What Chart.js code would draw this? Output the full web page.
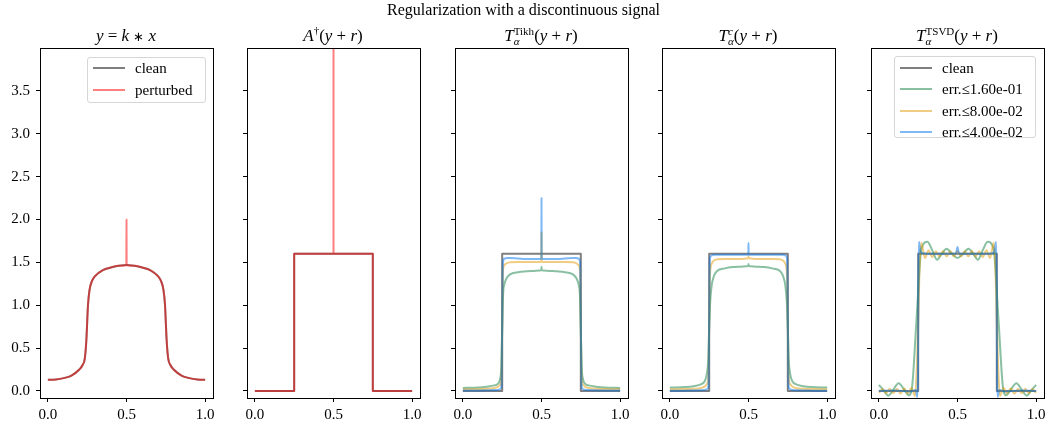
<!DOCTYPE html>
<html>
<head>
<meta charset="utf-8">
<script src="https://cdn.jsdelivr.net/npm/chart.js@4.4.1/dist/chart.umd.min.js"></script>
<style>
  body { margin: 0; background: #fff; }
  #fig { position: relative; width: 1047px; height: 426px; background: #fff; font-family: "Liberation Serif", serif; color: #000; }
  #fig canvas { position: absolute; top: 0; }
  .ttl { position: absolute; width: 220px; text-align: center; font-size: 17px; line-height: 20px; white-space: nowrap; }
  .sup { position: absolute; left: 0; width: 1047px; top: 2px; text-align: center; font-size: 16px; line-height: 16px; }
  .ss { display: inline-flex; flex-direction: column; font-size: 11px; line-height: 10px; vertical-align: 6px; text-align: left; }
  .dag { position: relative; top: -7px; font-size: 11px; }
  .leg { position: absolute; box-sizing: border-box; border: 1px solid #d6d6d6; border-radius: 3px; background: #fff; }
  .lline { position: absolute; width: 32px; height: 2px; }
  .ltxt { position: absolute; font-size: 15px; line-height: 20px; white-space: nowrap; }
</style>
</head>
<body>
<div id="fig">
  <canvas id="c1" width="225" height="426" style="left:0px"></canvas>
  <canvas id="c2" width="225" height="426" style="left:207px"></canvas>
  <canvas id="c3" width="225" height="426" style="left:415px"></canvas>
  <canvas id="c4" width="225" height="426" style="left:622px"></canvas>
  <canvas id="c5" width="225" height="426" style="left:831px"></canvas>

  <div class="sup">Regularization with a discontinuous signal</div>
  <div class="ttl" style="left:16px;top:26px"><i>y</i> = <i>k</i> <span style="font-size:13px">∗</span> <i>x</i></div>
  <div class="ttl" style="left:223px;top:26px"><i>A</i><span class="dag">†</span>(<i>y</i> + <i>r</i>)</div>
  <div class="ttl" style="left:431px;top:26px"><i>T</i><span class="ss"><span>Tikh</span><span><i>α</i></span></span>(<i>y</i> + <i>r</i>)</div>
  <div class="ttl" style="left:638px;top:26px"><i>T</i><span class="ss"><span><i>c</i></span><span><i>α</i></span></span>(<i>y</i> + <i>r</i>)</div>
  <div class="ttl" style="left:847px;top:26px"><i>T</i><span class="ss"><span>TSVD</span><span><i>α</i></span></span>(<i>y</i> + <i>r</i>)</div>

  <div id="leg1"></div>
  <div id="leg5"></div>
</div>
<script>
// ticks
const xTicks = [0, 0.5, 1];
const yTicks = [0, 0.5, 1, 1.5, 2, 2.5, 3, 3.5];

// panel 1: blurred signal y = k*x, clean and perturbed
const blurX = [0, 0.05, 0.1, 0.15, 0.2, 0.22, 0.235, 0.245, 0.25, 0.255, 0.265, 0.28, 0.3, 0.35, 0.4, 0.45, 0.5,
  0.55, 0.6, 0.65, 0.7, 0.72, 0.735, 0.745, 0.75, 0.755, 0.765, 0.78, 0.8, 0.85, 0.9, 0.95, 1];
const blurClean = [0.13, 0.135, 0.15, 0.18, 0.25, 0.3, 0.38, 0.6, 0.8, 1.0, 1.18, 1.28, 1.34, 1.41, 1.44, 1.46, 1.47,
  1.46, 1.44, 1.41, 1.34, 1.28, 1.18, 1.0, 0.8, 0.6, 0.38, 0.3, 0.25, 0.18, 0.15, 0.135, 0.13];
const pertX = [0, 0.05, 0.1, 0.15, 0.2, 0.22, 0.235, 0.245, 0.25, 0.255, 0.265, 0.28, 0.3, 0.35, 0.4, 0.45, 0.499, 0.5, 0.501,
  0.55, 0.6, 0.65, 0.7, 0.72, 0.735, 0.745, 0.75, 0.755, 0.765, 0.78, 0.8, 0.85, 0.9, 0.95, 1];
const pertY = [0.13, 0.135, 0.15, 0.18, 0.25, 0.3, 0.38, 0.6, 0.8, 1.0, 1.18, 1.28, 1.34, 1.41, 1.44, 1.46, 1.47, 2.0, 1.47,
  1.46, 1.44, 1.41, 1.34, 1.28, 1.18, 1.0, 0.8, 0.6, 0.38, 0.3, 0.25, 0.18, 0.15, 0.135, 0.13];

// clean step signal and pseudo-inverse of perturbed data
const stepX = [0, 0.25, 0.25, 0.75, 0.75, 1];
const stepY = [0, 0, 1.6, 1.6, 0, 0];
const pinvX = [0, 0.25, 0.25, 0.5, 0.5, 0.5, 0.75, 0.75, 1];
const pinvY = [0, 0, 1.6, 1.6, 6, 1.6, 1.6, 0, 0];

// panels 3 and 4 share this x grid
const fineX = [0, 0.1, 0.15, 0.2, 0.22, 0.235, 0.245, 0.25, 0.255, 0.265, 0.28, 0.3, 0.35, 0.4, 0.45, 0.49, 0.499, 0.5,
  0.501, 0.51, 0.55, 0.6, 0.65, 0.7, 0.72, 0.735, 0.745, 0.75, 0.755, 0.765, 0.78, 0.8, 0.85, 0.9, 1];

// Tikhonov
const tikhGreen = [0.035, 0.04, 0.05, 0.065, 0.08, 0.13, 0.3, 0.72, 1.1, 1.25, 1.32, 1.36, 1.385, 1.395, 1.4, 1.405, 1.41, 1.45,
  1.41, 1.405, 1.4, 1.395, 1.385, 1.36, 1.32, 1.25, 1.1, 0.72, 0.3, 0.13, 0.08, 0.065, 0.05, 0.04, 0.035];
const tikhOrange = [0.02, 0.022, 0.025, 0.035, 0.045, 0.07, 0.15, 0.78, 1.4, 1.47, 1.49, 1.5, 1.505, 1.505, 1.505, 1.505, 1.51, 1.85,
  1.51, 1.505, 1.505, 1.505, 1.505, 1.5, 1.49, 1.47, 1.4, 0.78, 0.15, 0.07, 0.045, 0.035, 0.025, 0.022, 0.02];
const tikhBlue = [0.005, 0.006, 0.007, 0.01, 0.012, 0.02, 0.05, 0.8, 1.5, 1.545, 1.55, 1.55, 1.545, 1.54, 1.54, 1.54, 1.545, 2.25,
  1.545, 1.54, 1.54, 1.54, 1.545, 1.55, 1.55, 1.545, 1.5, 0.8, 0.05, 0.02, 0.012, 0.01, 0.007, 0.006, 0.005];

// T^c
const cGreen = [0.04, 0.045, 0.055, 0.08, 0.11, 0.2, 0.4, 0.75, 1.0, 1.22, 1.34, 1.4, 1.43, 1.445, 1.45, 1.455, 1.46, 1.48,
  1.46, 1.455, 1.45, 1.445, 1.43, 1.4, 1.34, 1.22, 1.0, 0.75, 0.4, 0.2, 0.11, 0.08, 0.055, 0.045, 0.04];
const cOrange = [0.02, 0.022, 0.025, 0.035, 0.05, 0.08, 0.18, 0.8, 1.35, 1.48, 1.52, 1.535, 1.54, 1.54, 1.54, 1.545, 1.55, 1.57,
  1.55, 1.545, 1.54, 1.54, 1.54, 1.535, 1.52, 1.48, 1.35, 0.8, 0.18, 0.08, 0.05, 0.035, 0.025, 0.022, 0.02];
const cBlue = [0.003, 0.004, 0.005, 0.008, 0.01, 0.02, 0.05, 0.8, 1.55, 1.58, 1.59, 1.59, 1.59, 1.59, 1.59, 1.59, 1.59, 1.73,
  1.59, 1.59, 1.59, 1.59, 1.59, 1.59, 1.59, 1.58, 1.55, 0.8, 0.05, 0.02, 0.01, 0.008, 0.005, 0.004, 0.003];

// TSVD
const tsvdGreenX = [0, 0.03, 0.06, 0.09, 0.125, 0.16, 0.19, 0.21, 0.24, 0.27, 0.308, 0.34, 0.37, 0.4, 0.43, 0.465, 0.5,
  0.535, 0.57, 0.6, 0.63, 0.66, 0.692, 0.73, 0.76, 0.79, 0.81, 0.84, 0.875, 0.91, 0.94, 0.97, 1];
const tsvdGreenY = [0.07, 0.01, -0.055, 0.01, 0.09, 0.02, -0.05, 0.03, 0.85, 1.65, 1.74, 1.64, 1.53, 1.6, 1.66, 1.6, 1.55,
  1.6, 1.66, 1.6, 1.53, 1.64, 1.74, 1.65, 0.85, 0.03, -0.05, 0.02, 0.09, 0.01, -0.055, 0.01, 0.07];
const tsvdOrangeX = [0, 0.023, 0.046, 0.069, 0.092, 0.115, 0.138, 0.161, 0.184, 0.207, 0.23,
  0.242, 0.25, 0.258, 0.27, 0.293, 0.316, 0.339, 0.362, 0.385, 0.408, 0.431, 0.454, 0.477, 0.5,
  0.523, 0.546, 0.569, 0.592, 0.615, 0.638, 0.661, 0.684, 0.707, 0.73, 0.742, 0.75, 0.758, 0.77,
  0.793, 0.816, 0.839, 0.862, 0.885, 0.908, 0.931, 0.954, 0.977, 1];
const tsvdOrangeY = [-0.02, 0.02, -0.025, 0.025, -0.025, 0.025, -0.03, 0.03, -0.03, 0.035, -0.06,
  0.3, 0.8, 1.4, 1.73, 1.55, 1.64, 1.56, 1.63, 1.57, 1.63, 1.57, 1.63, 1.57, 1.63,
  1.57, 1.63, 1.57, 1.63, 1.57, 1.63, 1.56, 1.64, 1.55, 1.73, 1.4, 0.8, 0.3, -0.06,
  0.035, -0.03, 0.03, -0.03, 0.025, -0.025, 0.025, -0.025, 0.02, -0.02];
const tsvdBlueX = [0, 0.1, 0.2, 0.235, 0.245, 0.248, 0.25, 0.252, 0.255, 0.265, 0.3, 0.4, 0.49, 0.5, 0.51, 0.6, 0.7,
  0.735, 0.745, 0.748, 0.75, 0.752, 0.755, 0.765, 0.8, 0.9, 1];
const tsvdBlueY = [0, 0.005, -0.005, 0.01, -0.07, 0.2, 0.8, 1.4, 1.74, 1.62, 1.6, 1.6, 1.6, 1.68, 1.6, 1.6, 1.6,
  1.62, 1.74, 1.4, 0.8, 0.2, -0.07, 0.01, -0.005, 0.005, 0];

const legend1 = ['clean', 'perturbed'];
const legend5 = ['clean', 'err.≤1.60e-01', 'err.≤8.00e-02', 'err.≤4.00e-02'];

const cleanColor = 'rgba(0, 0, 0, 0.5)';
const pertColor = 'rgba(255, 0, 0, 0.5)';
const greenColor = 'rgba(20, 130, 70, 0.5)';
const orangeColor = 'rgba(225, 155, 5, 0.5)';
const blueColor = 'rgba(0, 115, 235, 0.5)';

const tickFont = { family: 'Liberation Serif', size: 15 };

function pts(xs, ys) {
  return xs.map((x, i) => ({ x: x, y: ys[i] }));
}

// later series on top, like matplotlib
function series(list) {
  return list.map((s, i) => ({
    data: pts(s[0], s[1]),
    borderColor: s[2],
    borderWidth: 2,
    pointRadius: 0,
    fill: false,
    borderJoinStyle: 'round',
    cubicInterpolationMode: s[3] ? 'monotone' : 'default',
    tension: 0,
    order: list.length - i
  }));
}

const boxPlugin = {
  id: 'box',
  afterDraw(chart) {
    const a = chart.chartArea, ctx = chart.ctx;
    ctx.save();
    ctx.strokeStyle = '#000';
    ctx.lineWidth = 1;
    ctx.strokeRect(a.left + 0.5, a.top + 0.5, a.right - a.left, a.bottom - a.top);
    ctx.restore();
  }
};

function panel(id, list, yLabels) {
  new Chart(document.getElementById(id), {
    type: 'line',
    data: { datasets: series(list) },
    options: {
      responsive: false,
      animation: false,
      devicePixelRatio: 1,
      events: [],
      layout: { padding: { top: 48, right: 12, left: 0, bottom: 0 } },
      plugins: { legend: { display: false }, tooltip: { enabled: false } },
      scales: {
        x: {
          type: 'linear', min: -0.05, max: 1.05,
          afterBuildTicks: s => { s.ticks = xTicks.map(v => ({ value: v })); },
          afterFit: s => { s.height = 28; },
          ticks: { font: tickFont, color: '#000', padding: 4, maxRotation: 0, autoSkip: false,
                   callback: v => v.toFixed(1) },
          grid: { drawOnChartArea: false, drawTicks: true, tickLength: 4, color: '#000' },
          border: { color: '#000' }
        },
        y: {
          type: 'linear', min: -0.082, max: 4.0,
          afterBuildTicks: s => { s.ticks = yTicks.map(v => ({ value: v })); },
          afterFit: s => { s.width = 40; },
          ticks: { font: tickFont, color: '#000', padding: 6, autoSkip: false,
                   callback: v => yLabels ? v.toFixed(1) : '' },
          grid: { drawOnChartArea: false, drawTicks: true, tickLength: 4, color: '#000' },
          border: { color: '#000' }
        }
      }
    },
    plugins: [boxPlugin]
  });
}

panel('c1', [[blurX, blurClean, cleanColor, true], [pertX, pertY, pertColor, true]], true);
panel('c2', [[stepX, stepY, cleanColor, false], [pinvX, pinvY, pertColor, false]], false);
panel('c3', [[stepX, stepY, cleanColor, false], [fineX, tikhGreen, greenColor, true],
             [fineX, tikhOrange, orangeColor, true], [fineX, tikhBlue, blueColor, true]], false);
panel('c4', [[stepX, stepY, cleanColor, false], [fineX, cGreen, greenColor, true],
             [fineX, cOrange, orangeColor, true], [fineX, cBlue, blueColor, true]], false);
panel('c5', [[stepX, stepY, cleanColor, false], [tsvdGreenX, tsvdGreenY, greenColor, true],
             [tsvdOrangeX, tsvdOrangeY, orangeColor, true], [tsvdBlueX, tsvdBlueY, blueColor, true]], false);

// legends drawn as html boxes
function legend(elId, box, names, colors, rowY) {
  const el = document.getElementById(elId);
  let html = '<div class="leg" style="left:' + box[0] + 'px;top:' + box[1] + 'px;width:' + box[2] + 'px;height:' + box[3] + 'px"></div>';
  names.forEach((n, i) => {
    html += '<div class="lline" style="left:' + (box[0] + 6) + 'px;top:' + (rowY[i] - 1) + 'px;background:' + colors[i] + '"></div>';
    html += '<div class="ltxt" style="left:' + (box[0] + 48) + 'px;top:' + (rowY[i] - 10) + 'px">' + n + '</div>';
  });
  el.innerHTML = html;
}
legend('leg1', [87, 57, 119, 46], legend1, [cleanColor, pertColor], [68, 90]);
legend('leg5', [894, 56, 142, 82], legend5, [cleanColor, greenColor, orangeColor, blueColor], [68, 89, 111, 132]);
</script>
</body>
</html>
